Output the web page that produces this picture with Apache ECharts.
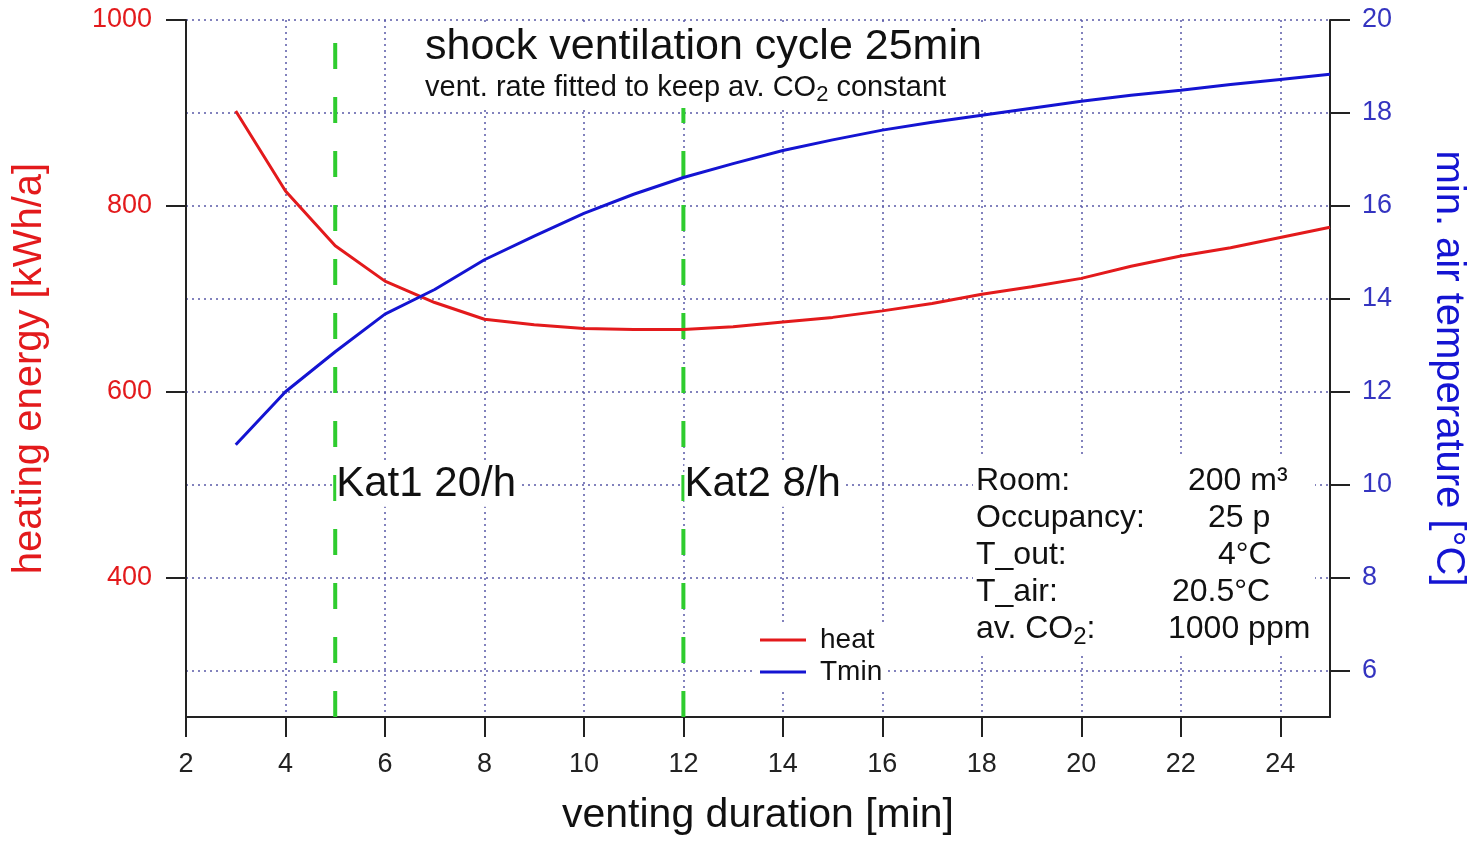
<!DOCTYPE html>
<html>
<head>
<meta charset="utf-8">
<script src="https://cdn.jsdelivr.net/npm/echarts@6/dist/echarts.min.js"></script>
<style>html,body{margin:0;padding:0;background:#fff}#c{width:1476px;height:841px}</style>
</head>
<body>
<div id="c"></div>
<script>
// ---- data ----
const duration = [3,4,5,6,7,8,9,10,11,12,13,14,15,16,17,18,19,20,21,22,23,24,25];
const heat = [902,816,757,719,696,678,672,668,667,667,670,675,680,687,695,705,713,722,735,746,755,766,777];
const tmin = [10.86,12.0,12.86,13.67,14.2,14.84,15.35,15.84,16.25,16.61,16.91,17.19,17.42,17.63,17.8,17.95,18.1,18.25,18.38,18.49,18.61,18.72,18.83];
const katX = [5, 12];
const katLabels = ['Kat1 20/h', 'Kat2 8/h'];
const katRange = [250, 976];
const katLabelAt = 500;
const xTicks = [2,4,6,8,10,12,14,16,18,20,22,24];
const leftTicks = [400,600,800,1000];
const rightTicks = [6,8,10,12,14,16,18,20];
const infoRows = [['Room:','200 m³'],['Occupancy:','25 p'],['T_out:','4°C'],['T_air:','20.5°C'],['av. CO{sub|2}:','1000 ppm']];

const FONT = '"Liberation Sans", Arial, sans-serif';
const RED = '#e31a1c', BLUE = '#1414d2', GREEN = '#2ecc2e';
const chart = echarts.init(document.getElementById('c'));

const katSeries = katX.map((x, i) => ({
  name: katLabels[i], type: 'line', yAxisIndex: 0, symbol: 'none', silent: true,
  data: [[x, katRange[0]], [x, katRange[1]]],
  lineStyle: { color: GREEN, width: 4, type: [26, 28] }, z: 1
}));

chart.setOption({
  animation: false,
  backgroundColor: '#fff',
  grid: { left: 186, right: 141, top: 20, bottom: 118, containLabel: false },
  xAxis: {
    type: 'value', min: 2, max: 25, interval: 1,
    name: 'venting duration [min]', nameLocation: 'middle', nameGap: 78,
    nameTextStyle: { fontFamily: FONT, fontSize: 41, color: '#111' },
    axisLine: { show: true, onZero: false, lineStyle: { color: '#222', width: 2 } },
    axisTick: { show: true, customValues: xTicks, length: 20, inside: false, lineStyle: { color: '#222', width: 2 } },
    axisLabel: { customValues: xTicks, margin: 34, fontFamily: FONT, fontSize: 27, color: '#222' },
    splitLine: { show: true, lineStyle: { color: '#5a5aa8', width: 1.5, type: [2, 4] } }
  },
  yAxis: [
    {
      type: 'value', min: 250, max: 1000, interval: 50, position: 'left',
      name: 'heating energy [kWh/a]', nameLocation: 'middle', nameGap: 136,
      nameTextStyle: { fontFamily: FONT, fontSize: 40, color: RED },
      axisLine: { show: true, lineStyle: { color: '#222', width: 2 } },
      axisTick: { show: true, customValues: leftTicks, length: 20, lineStyle: { color: '#222', width: 2 } },
      axisLabel: { customValues: leftTicks, margin: 34, fontFamily: FONT, fontSize: 27, color: RED,
        formatter: v => String(v) },
      splitLine: { show: false }
    },
    {
      type: 'value', min: 5, max: 20, interval: 1, position: 'right',
      name: 'min. air temperature [°C]', nameLocation: 'middle', nameGap: 98, nameRotate: -90,
      nameTextStyle: { fontFamily: FONT, fontSize: 40, color: BLUE },
      axisLine: { show: true, lineStyle: { color: '#222', width: 2 } },
      axisTick: { show: true, customValues: rightTicks, length: 20, lineStyle: { color: '#222', width: 2 } },
      axisLabel: { customValues: rightTicks, margin: 32, fontFamily: FONT, fontSize: 27, color: '#3434c0',
        formatter: v => String(v) },
      splitLine: { show: true, lineStyle: { color: '#5a5aa8', width: 1.5, type: [2, 4] } }
    }
  ],
  legend: {
    data: ['heat', 'Tmin'], orient: 'vertical', left: 756, top: 624,
    icon: 'rect', itemWidth: 46, itemHeight: 3, itemGap: 4,
    backgroundColor: '#fff', padding: [2, 4, 2, 4],
    textStyle: { fontFamily: FONT, fontSize: 28, color: '#111', padding: [0, 0, 0, 9] }
  },
  series: [
    ...katSeries,
    { name: 'heat', type: 'line', yAxisIndex: 0, symbol: 'none', z: 3,
      data: duration.map((d, i) => [d, heat[i]]), lineStyle: { color: RED, width: 3 }, itemStyle: { color: RED } },
    { name: 'Tmin', type: 'line', yAxisIndex: 1, symbol: 'none', z: 3,
      data: duration.map((d, i) => [d, tmin[i]]), lineStyle: { color: BLUE, width: 3 }, itemStyle: { color: BLUE } }
  ]
});

// annotations
const graphics = [];
// title block
graphics.push({ type: 'rect', left: 420, top: 22, shape: { width: 565, height: 86 }, style: { fill: '#fff' }, z: 50 });
graphics.push({ type: 'text', x: 425, y: 47, z: 51,
  style: { text: 'shock ventilation cycle 25min', font: '43px ' + FONT, fill: '#111', verticalAlign: 'middle' } });
graphics.push({ type: 'text', x: 425, y: 88, z: 51,
  style: { text: 'vent. rate fitted to keep av. CO{sub|2} constant', font: '29px ' + FONT, fill: '#111', verticalAlign: 'middle',
    rich: { sub: { fontSize: 22, fontFamily: FONT, fill: '#111', padding: [14, 0, 0, 0] } } } });
// info block
graphics.push({ type: 'rect', left: 973, top: 458, shape: { width: 342, height: 198 }, style: { fill: '#fff' }, z: 50 });
const valueX = [1188, 1208, 1218, 1172, 1168];
infoRows.forEach((r, i) => {
  const y = 481 + i * 37;
  graphics.push({ type: 'text', x: 976, y: y, z: 51,
    style: { text: r[0], font: '32px ' + FONT, fill: '#111', verticalAlign: 'middle',
      rich: { sub: { fontSize: 24, fontFamily: FONT, fill: '#111', padding: [16, 0, 0, 0] } } } });
  graphics.push({ type: 'text', x: valueX[i], y: y, z: 51,
    style: { text: r[1], font: '32px ' + FONT, fill: '#111', verticalAlign: 'middle' } });
});
// Kat labels positioned via axis scales
katX.forEach((x, i) => {
  const p = chart.convertToPixel({ xAxisIndex: 0, yAxisIndex: 0 }, [x, katLabelAt]);
  graphics.push({ type: 'text', x: p[0] + 1, y: p[1], z: 51,
    style: { text: katLabels[i], font: '42px ' + FONT, fill: '#111', verticalAlign: 'middle',
      backgroundColor: '#fff', padding: [2, 2, 0, 0] } });
});
chart.setOption({ graphic: graphics });
</script>
</body>
</html>
